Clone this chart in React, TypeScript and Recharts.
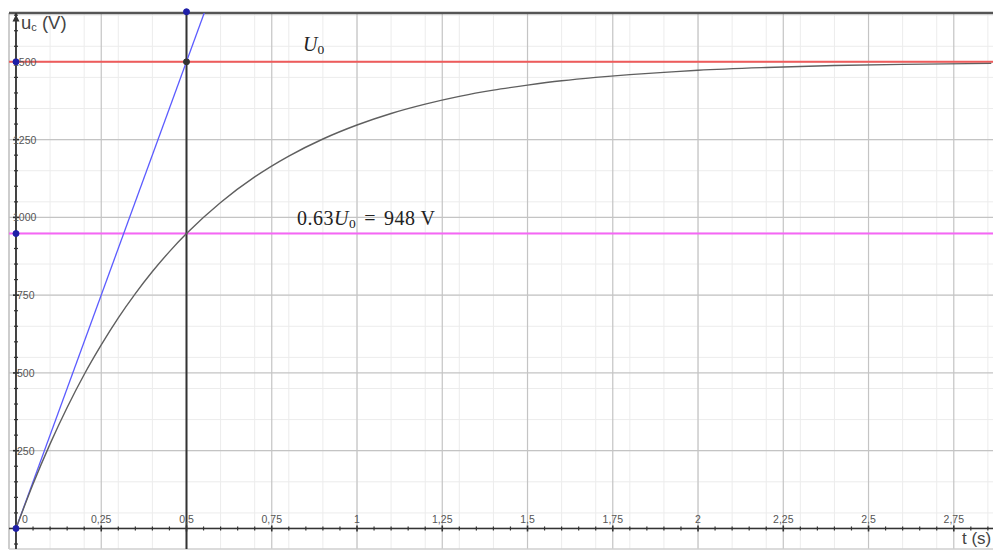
import React from 'react';
import {
  ComposedChart,
  Line,
  Scatter,
  XAxis,
  YAxis,
  CartesianGrid,
  ReferenceLine,
  ReferenceDot,
} from 'recharts';

// charge du condensateur : u_c(t)
const U0 = 1500;
const U063 = 948;
const TAU = 0.5;

const timeS = [0, 0.05, 0.1, 0.15, 0.2, 0.25, 0.3, 0.35, 0.4, 0.45, 0.5, 0.6, 0.7, 0.8, 0.9, 1.0, 1.1, 1.2, 1.3, 1.4, 1.5, 1.6, 1.7, 1.8, 1.9, 2.0, 2.2, 2.4, 2.6, 2.86];
const voltageV = [0, 143, 272, 389, 495, 590, 677, 755, 826, 890, 948, 1048, 1130, 1197, 1252, 1297, 1334, 1364, 1389, 1409, 1425, 1439, 1450, 1459, 1466, 1473, 1482, 1488, 1492, 1495];

// tangente à l'origine
const tangentT = [0, 0.553];
const tangentU = [0, 1660];

const xMajor = [0, 0.25, 0.5, 0.75, 1, 1.25, 1.5, 1.75, 2, 2.25, 2.5, 2.75];
const xLabels = ['0', '0,25', '0,5', '0,75', '1', '1,25', '1,5', '1,75', '2', '2,25', '2,5', '2,75'];
const yMajor = [0, 250, 500, 750, 1000, 1250, 1500];
const yLabels = ['', '250', '500', '750', '1000', '1250', '1500'];

const X_MIN = -0.0205;
const X_MAX = 2.865;
const Y_MIN = -66;
const Y_MAX = 1657;

const xMinor = Array.from({ length: 58 }, (_, i) => +(i * 0.05).toFixed(2));
const yMinor = Array.from({ length: 35 }, (_, i) => -50 + i * 50);

const curveData = timeS.map((t, i) => ({ t, u: voltageV[i] }));
const tangentData = tangentT.map((t, i) => ({ t, u: tangentU[i] }));
const xTickData = xMinor.map((t) => ({ t, u: 0 }));
const yTickData = yMinor.filter((v) => v !== 0).map((v) => ({ t: 0, u: v }));

const tickFont = { fontFamily: 'Liberation Sans, Arial, sans-serif', fontSize: 10.5, fill: '#555' };

function XTick(props: any) {
  const { cx, cy, payload } = props;
  const idx = xMajor.indexOf(payload.t);
  const major = idx >= 0;
  return (
    <g>
      <line x1={cx} x2={cx} y1={cy - (major ? 3 : 2)} y2={cy + (major ? 3 : 2)} stroke="#333" strokeWidth={major ? 1.6 : 1.2} />
      {major && (
        <text x={idx === 0 ? cx + 9 : cx} y={cy - 5} textAnchor="middle" {...tickFont}>
          {xLabels[idx]}
        </text>
      )}
    </g>
  );
}

function YTick(props: any) {
  const { cx, cy, payload } = props;
  const idx = yMajor.indexOf(payload.u);
  const major = idx >= 0;
  const label = major ? yLabels[idx] : '';
  return (
    <g>
      <line x1={cx - (major ? 3 : 2)} x2={cx + (major ? 3 : 2)} y1={cy} y2={cy} stroke="#333" strokeWidth={major ? 1.6 : 1.2} />
      {label && (
        <text x={label.length > 3 ? cx - 3 : cx + 1} y={cy + 4} textAnchor="start" {...tickFont}>
          {label}
        </text>
      )}
    </g>
  );
}

function Arrow(props: any) {
  const { cx, cy } = props;
  return <path d={`M${cx - 3.5},${cy + 6} L${cx},${cy - 1} L${cx + 3.5},${cy + 6} Z`} fill="#333" />;
}

const serif = { fontFamily: 'Liberation Serif, Times New Roman, serif', color: '#222' };

export default function App() {
  return (
    <div style={{ position: 'absolute', left: 0, top: 0, width: 993, height: 550, background: '#fff' }}>
      <ComposedChart width={993} height={550} margin={{ top: 13, right: 0, bottom: 1, left: 9 }}>
        <XAxis type="number" dataKey="t" domain={[X_MIN, X_MAX]} allowDataOverflow hide />
        <YAxis type="number" dataKey="u" domain={[Y_MIN, Y_MAX]} allowDataOverflow hide width={0} />
        <CartesianGrid stroke="#ececec" strokeWidth={1} verticalValues={xMinor} horizontalValues={yMinor} />
        {xMajor.map((x) => (
          <ReferenceLine key={'vx' + x} x={x} stroke="#c4c4c4" strokeWidth={1.2} />
        ))}
        {yMajor.map((y) => (
          <ReferenceLine key={'hy' + y} y={y} stroke="#c4c4c4" strokeWidth={1.2} />
        ))}
        <ReferenceLine x={X_MIN} stroke="#bdbdbd" strokeWidth={1.5} />
        <ReferenceLine y={Y_MIN} stroke="#cfcfcf" strokeWidth={1.5} />
        <ReferenceLine y={Y_MAX} stroke="#555" strokeWidth={2.5} />

        {/* axes */}
        <ReferenceLine y={0} stroke="#333" strokeWidth={1.6} />
        <ReferenceLine x={0} stroke="#333" strokeWidth={1.8} />
        <ReferenceDot x={0} y={Y_MAX - 8} r={3} shape={Arrow} ifOverflow="visible" />
        <Scatter data={xTickData} dataKey="u" shape={XTick} isAnimationActive={false} />
        <Scatter data={yTickData} dataKey="u" shape={YTick} isAnimationActive={false} />

        {/* U0 et 0,63 U0 */}
        <ReferenceLine y={U0} stroke="#ef5b5b" strokeWidth={2} />
        <ReferenceLine y={U063} stroke="#f566f5" strokeWidth={2} />
        <ReferenceLine x={TAU} stroke="#333" strokeWidth={2} />

        <Line data={tangentData} dataKey="u" type="linear" stroke="#5b5bff" strokeWidth={1.3} dot={false} isAnimationActive={false} />
        <Line data={curveData} dataKey="u" type="monotone" stroke="#5f5f5f" strokeWidth={1.4} dot={false} isAnimationActive={false} />

        <ReferenceDot x={TAU} y={U0} r={3} fill="#333" stroke="#333" ifOverflow="visible" />
        <ReferenceDot x={TAU} y={Y_MAX + 4} r={3} fill="#1f1fa8" stroke="#1f1fa8" ifOverflow="visible" />
        <ReferenceDot x={0} y={U0} r={3} fill="#1f1fa8" stroke="#1f1fa8" ifOverflow="visible" />
        <ReferenceDot x={0} y={U063} r={3} fill="#1f1fa8" stroke="#1f1fa8" ifOverflow="visible" />
        <ReferenceDot x={0} y={0} r={3} fill="#1f1fa8" stroke="#1f1fa8" ifOverflow="visible" />
      </ComposedChart>

      <div style={{ position: 'absolute', left: 21, top: 12, fontFamily: 'Liberation Sans, Arial, sans-serif', fontSize: 18.5, color: '#444', whiteSpace: 'nowrap' }}>
        u<sub style={{ fontSize: 11, verticalAlign: '-2px' }}>c</sub> (V)
      </div>
      <div style={{ position: 'absolute', left: 962, top: 529, fontFamily: 'Liberation Sans, Arial, sans-serif', fontSize: 17, color: '#444', whiteSpace: 'nowrap' }}>
        t (s)
      </div>
      <div style={{ position: 'absolute', left: 303, top: 33, fontSize: 20, whiteSpace: 'nowrap', ...serif }}>
        <i>U</i>
        <sub style={{ fontSize: 13.5, verticalAlign: '-3px' }}>0</sub>
      </div>
      <div style={{ position: 'absolute', left: 297, top: 207, fontSize: 20, letterSpacing: 0.5, whiteSpace: 'nowrap', ...serif }}>
        0.63<i>U</i>
        <sub style={{ fontSize: 13.5, verticalAlign: '-3px' }}>0</sub>
        <span style={{ margin: '0 8px' }}>=</span>948 V
      </div>
    </div>
  );
}
